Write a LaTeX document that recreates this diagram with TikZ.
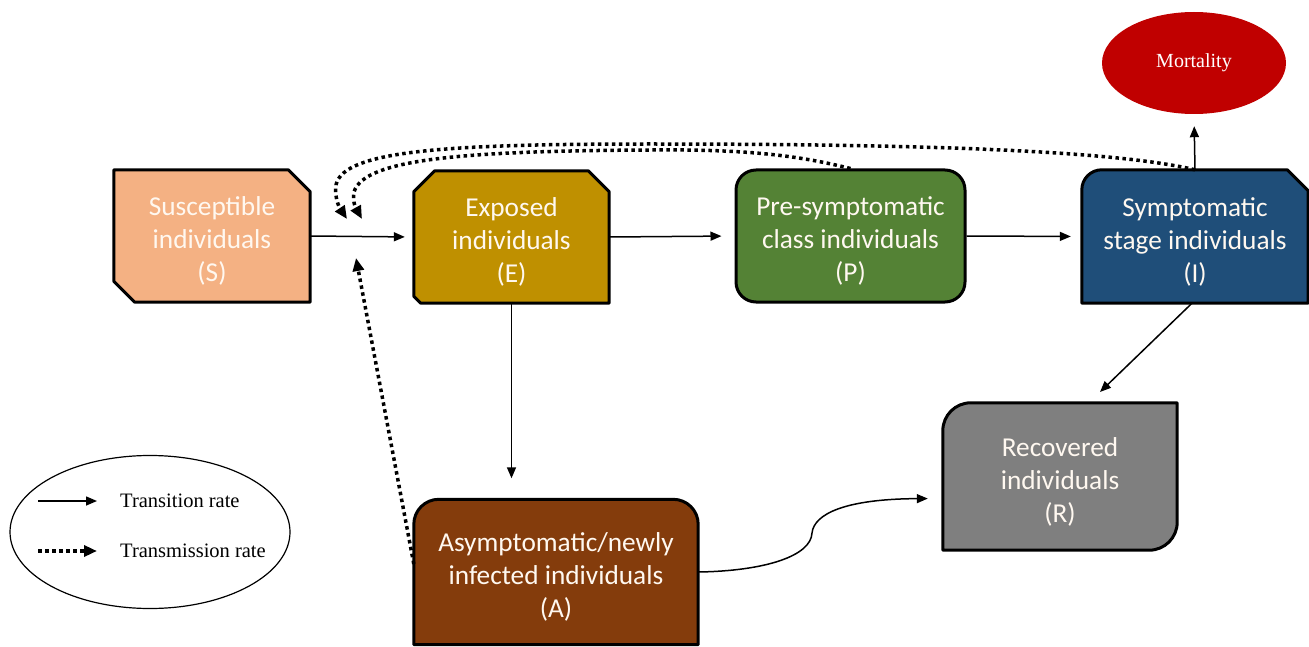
\documentclass[tikz,border=0pt]{standalone}
\usepackage{fontspec}
\setmainfont{Liberation Serif}
\newfontfamily\carlito{Carlito}
\usetikzlibrary{arrows.meta,shapes.geometric,backgrounds,calc}
\definecolor{cS}{HTML}{F4B183}
\definecolor{cE}{HTML}{BF9000}
\definecolor{cP}{HTML}{548235}
\definecolor{cI}{HTML}{1F4E79}
\definecolor{cR}{HTML}{7F7F7F}
\definecolor{cA}{HTML}{843C0C}
\definecolor{cM}{HTML}{C00000}
\definecolor{txt}{HTML}{FFF8F0}
\newcommand{\toppad}{\rule{0pt}{29pt}}
\tikzset{
  box/.style={inner sep=0pt, align=center, text=txt,
    font=\carlito\fontsize{27.3}{33}\selectfont},
  border/.style={draw=black, line width=3pt, line join=round},
  trans/.style={line width=1.5pt, -{Triangle[length=11pt,width=9pt]}},
  transm/.style={line width=3.5pt, dash pattern=on 3.5pt off 3.5pt,
    -{Triangle[length=13pt,width=11pt]}},
  legtext/.style={font=\fontsize{20.5}{24}\selectfont, anchor=west, inner sep=0pt},
}
\begin{document}
\begin{tikzpicture}[x=1pt,y=-1pt]
\useasboundingbox (0,0) rectangle (1309,647);

% nodes (text)
\node[box, minimum width=196pt, minimum height=132pt] (S) at (212,236) {\toppad Susceptible\\individuals\\(S)};
\node[box, minimum width=195pt, minimum height=132pt] (E) at (511.5,237) {\toppad Exposed\\individuals\\(E)};
\node[box, minimum width=229pt, minimum height=132pt, border, fill=cP, rounded corners=20pt] (P) at (850.5,236) {\toppad Pre-symptomatic\\class individuals\\(P)};
\node[box, minimum width=226pt, minimum height=133pt] (I) at (1195,236.5) {\toppad Symptomatic\\stage individuals\\(I)};
\node[box, minimum width=234pt, minimum height=147pt] (R) at (1060,476.5) {\toppad Recovered\\individuals\\(R)};
\node[box, minimum width=284pt, minimum height=145pt] (A) at (556,572) {\toppad Asymptomatic/newly\\infected individuals\\(A)};
\node[ellipse, fill=cM, inner sep=0pt, minimum width=184pt, minimum height=102pt,
  text=white, font=\fontsize{20}{24}\selectfont] (M) at (1194,63) {Mortality};

% legend
\node[ellipse, draw, line width=1.2pt, minimum width=280pt, minimum height=153pt, inner sep=0pt] (L) at (150,532) {};
\node[legtext] (T1) at (120,501) {Transition rate};
\node[legtext] (T2) at (120,551) {Transmission rate};
\coordinate (la1) at (38,501);
\coordinate (la2) at (97,501);
\coordinate (lb1) at (38,551);
\coordinate (lb2) at (97,551);

% box shapes
\begin{scope}[on background layer]
\filldraw[border, fill=cS] (S.north west) -- ([xshift=-22pt]S.north east) -- ([yshift=-22pt]S.north east)
  -- (S.south east) -- ([xshift=21pt]S.south west) -- ([yshift=21pt]S.south west) -- cycle;
\filldraw[border, fill=cE] ([xshift=21pt]E.north west) -- ([xshift=-21pt]E.north east) -- ([yshift=-21pt]E.north east)
  -- (E.south east) -- ([xshift=7pt]E.south west) -- ([yshift=7pt]E.south west) -- ([yshift=-21pt]E.north west) -- cycle;
\filldraw[border, fill=cI] (I.south west) -- ([yshift=-20pt]I.north west) arc[start angle=180,end angle=90,radius=20pt]
  -- ([xshift=-21pt]I.north east) -- ([yshift=-21pt]I.north east) -- (I.south east) -- cycle;
\filldraw[border, fill=cR] (R.south west) -- ([yshift=-28pt]R.north west) arc[start angle=180,end angle=90,radius=28pt]
  -- (R.north east) -- ([yshift=28pt]R.south east) arc[start angle=0,end angle=-90,radius=28pt] -- cycle;
\filldraw[border, fill=cA] (A.south west) -- ([yshift=-25pt]A.north west) arc[start angle=180,end angle=90,radius=25pt]
  -- ([xshift=-25pt]A.north east) arc[start angle=90,end angle=0,radius=25pt] -- (A.south east) -- cycle;
\end{scope}

% transition arrows
\draw[trans, shorten >=9pt] (S.east) -- (E.west);
\draw[trans, shorten >=13pt] (E.east) -- (P.west);
\draw[trans, shorten >=11pt] (P.east) -- (I.west);
\draw[trans, shorten >=21pt] (E.south) -- (E.south |- A.north);
\coordinate (ir) at (1100,392);
\draw[trans] ([xshift=-3pt]I.south) -- (ir);
\draw[trans, shorten >=12pt] (I.north) -- (M.south);
\draw[trans, shorten >=15pt] (A.east) .. controls (765,571) and (811,556) .. (812,533)
  .. controls (814,514) and (845,499) .. ([yshift=-22pt]R.west);

% transmission arrows
\coordinate (tip1) at (347,219);
\coordinate (tip2) at (362,219);
\coordinate (tip3) at (356,258);
\draw[transm] (I.north) .. controls (1120,152) and (950,144) .. (650,144)
  .. controls (450,144) and (343,150) .. (336,185) .. controls (334,200) and (341,210) .. (tip1);
\draw[transm] (P.north) .. controls (800,156) and (750,149) .. (650,150)
  .. controls (470,151) and (364,158) .. (354,192) .. controls (352,203) and (357,210) .. (tip2);
\draw[transm] ([yshift=8pt]A.west) -- (tip3);

% legend arrows
\draw[trans] (la1) -- (la2);
\draw[transm] (lb1) -- (lb2);
\end{tikzpicture}
\end{document}
